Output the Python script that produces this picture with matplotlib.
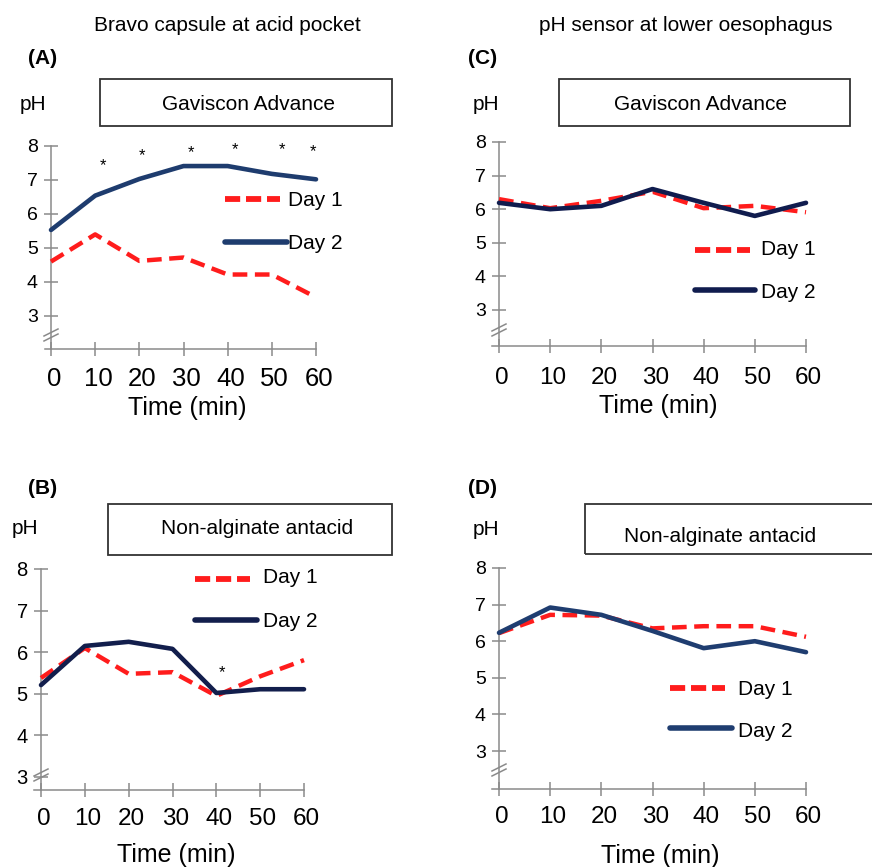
import matplotlib
matplotlib.use('Agg')
import matplotlib.pyplot as plt
from matplotlib.lines import Line2D
from matplotlib.patches import Rectangle
from matplotlib.transforms import ScaledTranslation

plt.rcParams['font.family'] = ['Liberation Sans', 'DejaVu Sans']

# ---------------- data ----------------
time_min = [0, 10, 20, 30, 40, 50, 60]
x_ticks = [0, 10, 20, 30, 40, 50, 60]
y_ticks = [3, 4, 5, 6, 7, 8]

a_day1 = [4.6, 5.4, 4.62, 4.72, 4.22, 4.22, 3.55]
a_day2 = [5.53, 6.54, 7.03, 7.41, 7.41, 7.18, 7.02]
a_star_x = [11.7, 20.5, 31.7, 41.6, 52.2, 59.3]
a_star_y = [7.56, 7.85, 7.92, 8.02, 8.03, 7.95]

b_day1 = [5.38, 6.1, 5.48, 5.52, 4.95, 5.42, 5.81]
b_day2 = [5.21, 6.15, 6.25, 6.08, 5.02, 5.11, 5.11]
b_star_x = [41.3]
b_star_y = [5.6]

c_day1 = [6.3, 6.03, 6.25, 6.52, 6.03, 6.1, 5.91]
c_day2 = [6.19, 6.0, 6.1, 6.6, 6.19, 5.8, 6.19]

d_day1 = [6.22, 6.72, 6.7, 6.35, 6.41, 6.41, 6.12]
d_day2 = [6.23, 6.92, 6.72, 6.28, 5.81, 6.0, 5.7]

col_titles = ["Bravo capsule at acid pocket", "pH sensor at lower oesophagus"]
panel_letters = ["(A)", "(B)", "(C)", "(D)"]
box_titles = ["Gaviscon Advance", "Non-alginate antacid"]
legend_labels = ["Day 1", "Day 2"]
y_label = "pH"
x_label = "Time (min)"

# ---------------- styling ----------------
W, H = 872, 867
fig = plt.figure(figsize=(W / 100, H / 100), dpi=100)
RED = '#ff1c1c'
AXC = '#8a8a8a'
DASH = (0, (3.3, 1.7))


def fx(px):
    return px / W


def fy(py):
    return 1 - py / H


def make_axes(x_start, x0, x60, y8, ppu, axis_y, xt_size, yt_size, xpad, break_y):
    ax = fig.add_axes([fx(x_start), fy(axis_y), (x60 - x_start) / W, (axis_y - y8) / H])
    ax.patch.set_visible(False)
    xmin = -(x0 - x_start) / (x60 - x0) * 60
    ymin = 8 - (axis_y - y8) / ppu
    ax.set_xlim(xmin, 60)
    ax.set_ylim(ymin, 8)
    for s in ['top', 'right']:
        ax.spines[s].set_visible(False)
    ax.spines['left'].set_position(('data', 0))
    ax.spines['left'].set_bounds(ymin, 8)
    for s in ['left', 'bottom']:
        ax.spines[s].set_color(AXC)
        ax.spines[s].set_linewidth(1.1)
    ax.set_xticks(x_ticks)
    ax.set_yticks(y_ticks)
    ax.tick_params(axis='both', direction='inout', length=10, width=1.1, color=AXC)
    ax.tick_params(axis='x', labelsize=xt_size, pad=xpad)
    ax.tick_params(axis='y', labelsize=yt_size, pad=4.5)
    # shift x tick labels slightly right as in the reference
    shift = ScaledTranslation(2 / 72, 0, fig.dpi_scale_trans)
    for lab in ax.get_xticklabels():
        lab.set_transform(lab.get_transform() + shift)
    # axis break marks
    for dy in (-2.5, 2.5):
        fig.add_artist(Line2D([fx(x0 - 7), fx(x0 + 7)],
                              [fy(break_y + dy + 3.5), fy(break_y + dy - 3.5)],
                              transform=fig.transFigure, color=AXC, lw=1.1))
    return ax


def draw_series(ax, d1, d2, c2, lw2=3.3):
    ax.plot(time_min, d1, color=RED, lw=3.2, linestyle=DASH, clip_on=False, zorder=3)
    ax.plot(time_min, d2, color=c2, lw=lw2, clip_on=False, zorder=4,
            solid_capstyle='round', solid_joinstyle='round')


def stars(ax, xs, ys):
    down = ScaledTranslation(0, -3 / 72, fig.dpi_scale_trans)
    for sx, sy in zip(xs, ys):
        ax.text(sx, sy, '*', fontsize=12, ha='center', va='center',
                transform=ax.transData + down)


def legend(x1, x2a, x2b, y1, y2, xt, b1, b2, c2):
    fig.add_artist(Line2D([fx(x1), fx(x2a)], [fy(y1), fy(y1)], transform=fig.transFigure,
                          color=RED, lw=4.2, linestyle=(0, (2.6, 1.0))))
    fig.add_artist(Line2D([fx(x1), fx(x2b)], [fy(y2), fy(y2)], transform=fig.transFigure,
                          color=c2, lw=4.0, solid_capstyle='round'))
    fig.text(fx(xt), fy(b1), legend_labels[0], fontsize=15, va='baseline', ha='left')
    fig.text(fx(xt), fy(b2), legend_labels[1], fontsize=15, va='baseline', ha='left')


def title_box(x1, x2, y1, y2, text, tx, tb):
    fig.add_artist(Rectangle((fx(x1), fy(y2)), (x2 - x1) / W, (y2 - y1) / H,
                             transform=fig.transFigure, fill=False,
                             edgecolor='#333333', lw=1.3))
    fig.text(fx(tx), fy(tb), text, fontsize=15, ha='center', va='baseline')


# column titles and letters
fig.text(fx(227), fy(31), col_titles[0], fontsize=15, ha='center', va='baseline')
fig.text(fx(686), fy(31), col_titles[1], fontsize=15, ha='center', va='baseline')
fig.text(fx(28), fy(64), panel_letters[0], fontsize=15, fontweight='bold', va='baseline')
fig.text(fx(28), fy(494), panel_letters[1], fontsize=15, fontweight='bold', va='baseline')
fig.text(fx(468), fy(64), panel_letters[2], fontsize=15, fontweight='bold', va='baseline')
fig.text(fx(468), fy(494), panel_letters[3], fontsize=15, fontweight='bold', va='baseline')

# ---------- Panel A ----------
axA = make_axes(45, 51, 316, 146, 34.0, 349, 18.5, 14, 8, 335)
draw_series(axA, a_day1, a_day2, '#1e3c6e')
stars(axA, a_star_x, a_star_y)
fig.text(fx(20), fy(110), y_label, fontsize=15, va='baseline')
title_box(100, 392, 79, 126, box_titles[0], 248, 110)
legend(225, 280, 287, 199, 242, 288, 206, 249, '#1e3c6e')
fig.text(fx(187), fy(415), x_label, fontsize=18, ha='center', va='baseline')

# ---------- Panel C ----------
axC = make_axes(492, 499, 806, 142, 33.6, 346, 17.5, 14, 10, 330)
draw_series(axC, c_day1, c_day2, '#101c4e')
fig.text(fx(473), fy(110), y_label, fontsize=15, va='baseline')
title_box(559, 850, 79, 126, box_titles[0], 700, 110)
legend(695, 750, 755, 250, 290, 761, 255, 298, '#101c4e')
fig.text(fx(658), fy(413), x_label, fontsize=18, ha='center', va='baseline')

# ---------- Panel B ----------
axB = make_axes(34, 41, 304, 569, 41.6, 790, 17.5, 14.5, 8, 775)
draw_series(axB, b_day1, b_day2, '#121e4c')
stars(axB, b_star_x, b_star_y)
fig.text(fx(12), fy(534), y_label, fontsize=15, va='baseline')
title_box(108, 392, 504, 555, box_titles[1], 257, 534)
legend(195, 250, 257, 579, 620, 263, 583, 627, '#121e4c')
fig.text(fx(176), fy(862), x_label, fontsize=18, ha='center', va='baseline')

# ---------- Panel D ----------
axD = make_axes(492, 499, 806, 568, 36.6, 789, 17.5, 14, 7, 770)
draw_series(axD, d_day1, d_day2, '#1f3d70')
fig.text(fx(473), fy(535), y_label, fontsize=15, va='baseline')
title_box(585, 895, 504, 554, box_titles[1], 720, 542)
legend(670, 725, 732, 688, 728, 738, 695, 737, '#1f3d70')
fig.text(fx(660), fy(863), x_label, fontsize=18, ha='center', va='baseline')

fig.savefig('out.png', dpi=100)
